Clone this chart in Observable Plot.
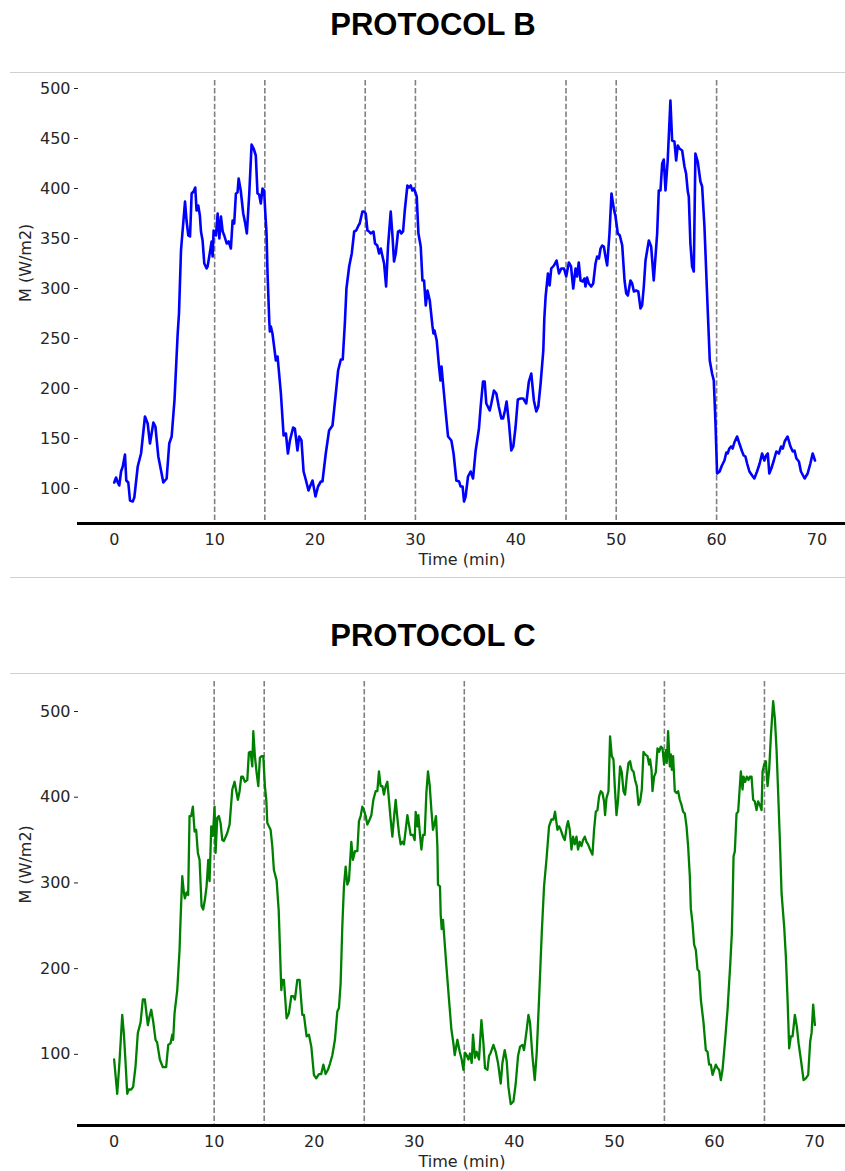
<!DOCTYPE html>
<html>
<head>
<meta charset="utf-8">
<script src="https://cdn.jsdelivr.net/npm/d3@7"></script>
<script src="https://cdn.jsdelivr.net/npm/@observablehq/plot@0.6"></script>
<style>
  html, body { margin: 0; padding: 0; background: #fff; }
  #wrap { position: relative; width: 845px; height: 1171px; overflow: hidden; background: #fff; }
  .title { position: absolute; left: 0; width: 866px; text-align: center; font-family: "Liberation Sans", Arial, sans-serif; font-weight: bold; font-size: 31px; line-height: 31px; color: #000; }
  .sep { position: absolute; left: 10px; width: 835px; border-top: 1px solid #d0d0d0; height: 0; }
  .panel { position: absolute; left: 0; }
</style>
</head>
<body>
<div id="wrap">
  <div class="title" id="titleB" style="top:9px">PROTOCOL B</div>
  <div class="sep" style="top:72px"></div>
  <div class="panel" id="chartB" style="top:73px"></div>
  <div class="sep" style="top:577px"></div>
  <div class="title" id="titleC" style="top:620px">PROTOCOL C</div>
  <div class="sep" style="top:673px"></div>
  <div class="panel" id="chartC" style="top:674px"></div>
</div>
<script>
// ---- Data ----
const titles = ["PROTOCOL B", "PROTOCOL C"];
const xLabel = "Time (min)";
const yLabel = "M (W/m2)";
const xTicks = [0, 10, 20, 30, 40, 50, 60, 70];
const yTicksB = [100, 150, 200, 250, 300, 350, 400, 450, 500];
const yTicksC = [100, 200, 300, 400, 500];
const phasesB = [10, 15, 25, 30, 45, 50, 60];
const phasesC = [10, 15, 25, 35, 55, 65];

const timeB = [0,0.18,0.35,0.5,0.68,0.85,1.07,1.2,1.4,1.57,1.84,2.0,2.34,2.67,3.06,3.33,3.56,3.9,4.1,4.39,4.66,4.89,5.22,5.48,5.72,5.92,6.0,6.32,6.45,6.65,6.73,7.05,7.2,7.38,7.55,7.71,7.9,8.07,8.2,8.37,8.53,8.64,8.8,8.97,9.2,9.3,9.56,9.7,9.8,9.9,10.13,10.3,10.47,10.63,10.8,10.96,11.2,11.4,11.62,11.79,11.95,12.12,12.28,12.39,12.6,12.85,13.05,13.21,13.45,13.68,13.88,14.1,14.27,14.43,14.6,14.77,14.93,15.04,15.17,15.27,15.44,15.5,15.6,15.76,16.1,16.27,16.6,16.87,17.1,17.3,17.5,17.82,17.99,18.25,18.42,18.65,18.86,19.1,19.35,19.5,19.75,20.05,20.3,20.58,20.74,21.07,21.4,21.74,22.07,22.3,22.57,22.76,22.97,23.13,23.4,23.66,23.9,24.1,24.33,24.45,24.72,24.88,25.05,25.22,25.38,25.55,25.82,25.98,26.2,26.38,26.55,26.7,26.88,27.08,27.27,27.54,27.7,27.87,28.04,28.27,28.43,28.6,28.77,28.94,29.2,29.37,29.53,29.7,29.86,30.13,30.3,30.53,30.7,30.86,31.03,31.2,31.43,31.69,31.8,31.9,32.12,32.35,32.5,32.6,32.78,33.0,33.25,33.58,33.8,34.08,34.35,34.5,34.7,34.84,35.0,35.24,35.5,35.74,36.0,36.33,36.5,36.73,36.9,37.06,37.4,37.56,37.82,38.06,38.3,38.56,38.73,38.92,39.08,39.32,39.55,39.75,39.98,40.2,40.47,40.74,41.04,41.3,41.54,41.8,42.04,42.24,42.47,42.74,42.84,42.97,43.2,43.37,43.53,43.8,44.06,44.3,44.53,44.8,45.02,45.28,45.5,45.72,45.95,46.1,46.27,46.45,46.67,46.84,46.94,47.1,47.27,47.51,47.71,47.94,48.1,48.28,48.44,48.6,48.77,48.93,49.1,49.33,49.53,49.76,49.93,50.16,50.36,50.6,50.83,51.0,51.16,51.42,51.59,51.76,51.99,52.2,52.42,52.58,52.75,52.92,53.25,53.48,53.74,54.08,54.24,54.41,54.58,54.74,54.91,55.13,55.4,55.57,55.8,55.97,56.13,56.3,56.57,56.8,56.96,57.13,57.23,57.39,57.56,57.73,57.89,58.12,58.39,58.56,58.79,59.05,59.32,59.55,59.72,59.88,60.05,60.3,60.53,60.78,60.97,61.1,61.27,61.44,61.6,61.77,62.04,62.27,62.54,62.7,62.87,63.04,63.27,63.54,63.76,64.03,64.29,64.53,64.76,64.93,65.1,65.25,65.45,65.7,65.95,66.2,66.43,66.6,66.78,67.07,67.36,67.59,67.76,67.95,68.2,68.4,68.77,69.07,69.34,69.57,69.8];
const valueB = [106,111,106,103,117,122,134,108,106,88,87,91,122,135,172,165,145,166,162,132,118,106,110,145,152,178,188,255,275,338,348,387,368,353,352,395,397,401,378,383,373,357,348,325,320,322,338,347,332,358,353,375,350,372,357,353,345,347,340,368,365,395,396,410,398,375,365,355,395,444,440,433,395,394,385,400,398,377,355,315,268,257,262,255,228,232,195,153,155,135,148,161,160,138,152,148,117,108,98,102,108,92,102,107,107,135,158,163,195,218,229,229,265,300,322,335,357,358,363,365,377,377,375,358,357,355,357,345,343,335,340,333,325,302,342,377,355,327,335,357,358,355,357,378,403,401,403,398,400,392,355,342,308,308,283,298,288,263,255,258,248,222,208,222,202,178,152,148,135,108,107,102,102,87,92,112,117,110,138,160,182,207,207,185,178,185,198,195,182,170,170,178,187,165,138,142,162,189,190,190,185,207,215,188,177,182,205,238,270,292,315,303,320,323,328,315,320,320,312,326,322,300,320,312,326,308,307,310,302,311,305,302,305,325,332,330,340,343,342,332,323,355,395,380,372,355,353,343,308,295,293,308,305,297,298,297,280,283,302,328,348,342,308,355,398,398,425,429,398,428,488,448,447,428,443,440,438,422,415,397,392,345,322,317,435,427,407,402,362,295,228,215,208,168,115,117,123,128,136,135,140,142,140,146,152,145,137,133,132,125,117,113,110,117,125,135,128,133,135,115,120,128,137,135,142,140,147,152,142,137,138,130,127,117,110,115,125,135,128];

const timeC = [0,0.31,0.53,0.81,0.97,1.14,1.31,1.47,1.71,1.9,2.14,2.37,2.64,2.87,3.07,3.37,3.54,3.71,3.91,4.14,4.3,4.57,4.87,5.2,5.41,5.64,5.81,5.9,6.04,6.31,6.54,6.64,6.81,6.97,7.07,7.24,7.4,7.54,7.7,7.87,8.04,8.2,8.37,8.54,8.74,8.9,9.07,9.24,9.41,9.54,9.71,9.87,10.04,10.14,10.31,10.47,10.64,10.81,10.97,11.3,11.54,11.81,12.04,12.21,12.37,12.54,12.71,12.87,13.07,13.31,13.47,13.64,13.81,13.91,14.07,14.24,14.41,14.57,14.74,14.91,15.07,15.21,15.31,15.47,15.64,15.81,15.97,16.24,16.45,16.71,16.81,16.97,17.24,17.47,17.71,17.91,18.07,18.31,18.54,18.81,18.97,19.24,19.47,19.71,19.97,20.2,20.47,20.7,20.91,21.14,21.37,21.57,21.81,22.07,22.31,22.47,22.64,22.81,22.97,23.14,23.31,23.47,23.71,23.87,24.07,24.31,24.47,24.64,24.81,24.97,25.14,25.31,25.54,25.71,25.91,26.14,26.31,26.47,26.64,26.81,26.97,27.14,27.31,27.47,27.64,27.81,27.97,28.14,28.31,28.47,28.64,28.81,28.97,29.14,29.31,29.47,29.64,29.87,30.04,30.14,30.31,30.41,30.57,30.71,30.87,31.04,31.21,31.37,31.54,31.71,31.87,32.04,32.17,32.31,32.37,32.57,32.64,32.74,32.87,32.97,33.21,33.47,33.71,33.91,34.04,34.31,34.54,34.74,34.91,35.07,35.24,35.41,35.57,35.74,35.87,36.07,36.24,36.47,36.71,36.91,37.07,37.31,37.47,37.64,37.91,38.14,38.37,38.64,38.81,39.04,39.24,39.41,39.64,39.91,40.14,40.37,40.57,40.81,40.97,41.24,41.41,41.57,41.81,42.04,42.24,42.47,42.74,42.97,43.21,43.47,43.71,43.91,44.07,44.31,44.47,44.64,44.87,45.04,45.24,45.37,45.54,45.71,45.87,46.04,46.21,46.37,46.54,46.71,46.87,47.04,47.21,47.37,47.57,47.81,47.97,48.14,48.31,48.47,48.64,48.81,48.97,49.07,49.21,49.41,49.57,49.74,49.91,50.04,50.21,50.37,50.57,50.74,50.91,51.07,51.24,51.41,51.57,51.74,51.91,52.07,52.24,52.41,52.57,52.74,52.91,53.07,53.31,53.47,53.57,53.71,53.81,53.97,54.14,54.31,54.47,54.64,54.81,54.97,55.14,55.24,55.37,55.54,55.64,55.74,55.87,56.04,56.21,56.37,56.54,56.71,56.87,57.04,57.21,57.37,57.54,57.64,57.81,57.97,58.14,58.31,58.47,58.64,58.91,59.14,59.31,59.47,59.64,59.81,59.97,60.14,60.31,60.47,60.64,60.81,61.07,61.31,61.57,61.74,61.82,61.91,62.04,62.21,62.37,62.64,62.81,62.91,63.07,63.24,63.41,63.54,63.71,63.87,64.04,64.21,64.37,64.54,64.71,64.81,64.97,65.14,65.31,65.47,65.64,65.87,66.04,66.21,66.37,66.54,66.71,66.81,66.97,67.14,67.31,67.47,67.64,67.81,68.04,68.24,68.41,68.64,68.91,69.14,69.37,69.57,69.71,69.87,70.04];
const valueC = [94,54,90,146,125,91,54,59,59,62,86,125,137,164,164,134,144,152,138,117,114,94,85,85,111,113,123,117,148,175,222,257,308,289,282,289,286,378,378,389,360,362,335,327,273,269,280,296,327,302,366,355,389,335,376,378,370,350,349,358,368,409,418,407,397,407,424,424,418,420,452,453,436,477,448,429,413,446,448,448,413,397,370,366,362,343,315,303,268,175,187,187,142,148,168,168,164,187,187,146,146,121,123,109,76,72,77,77,88,77,82,89,99,117,150,154,183,250,296,319,298,303,348,327,337,337,372,378,389,385,378,368,374,379,397,407,407,430,413,413,403,413,418,397,374,354,376,397,376,358,345,348,345,362,379,368,356,356,350,383,366,379,356,339,356,356,405,430,414,385,362,370,378,343,298,296,263,246,257,241,203,164,129,113,99,117,103,94,82,102,99,94,101,90,123,96,103,94,140,113,84,82,98,102,111,103,90,66,90,105,92,62,42,45,66,98,109,111,105,129,146,137,98,70,102,164,241,296,327,366,374,374,383,362,366,362,354,350,366,372,362,339,354,345,354,339,348,343,350,354,348,345,339,333,362,383,385,401,407,405,395,379,399,407,471,448,444,413,379,397,436,429,407,403,424,440,442,432,430,420,413,391,395,409,453,450,448,438,444,432,407,424,429,457,453,459,457,438,455,440,477,436,450,432,448,407,405,407,397,391,383,381,366,343,308,270,253,228,222,199,197,164,137,105,103,88,88,76,82,88,84,82,70,82,117,152,203,241,280,331,337,381,383,430,409,424,418,424,420,424,424,397,395,385,395,391,385,430,438,442,413,432,471,512,492,455,405,350,288,273,249,214,164,107,121,121,146,132,113,94,70,72,76,115,125,158,134];

function panel({time, value, phases, yTicks, yDomain, xDomain, color, lineWidth, height, marginBottom}) {
  return Plot.plot({
    width: 845,
    height,
    marginLeft: 78,
    marginRight: 0,
    marginTop: 7,
    marginBottom,
    x: {domain: xDomain},
    y: {domain: yDomain},
    style: {fontFamily: "DejaVu Sans", fontSize: "16px", color: "#262626", background: "white", overflow: "visible"},
    marks: [
      Plot.ruleX(phases, {stroke: "#808080", strokeWidth: 1.6, strokeDasharray: "5.5,2.4"}),
      Plot.line(value, {x: time, y: value, stroke: color, strokeWidth: lineWidth, strokeLinejoin: "round"}),
      Plot.frame({anchor: "bottom", stroke: "#000", strokeWidth: 3}),
      Plot.axisX({ticks: xTicks, tickSize: 0, tickPadding: 10, label: null, tickFormat: d => String(d), fontSize: 16}),
      Plot.axisY({ticks: yTicks, tickSize: 4, tickPadding: 4, label: null, tickFormat: d => String(d), fontSize: 16}),
      Plot.text([xLabel], {frameAnchor: "bottom", dy: 41, text: d => d, fontSize: 16, fill: "#262626"}),
      Plot.text([yLabel], {frameAnchor: "left", rotate: -90, dx: -53, text: d => d, fontSize: 16, fill: "#262626"})
    ]
  });
}

document.getElementById("titleB").textContent = titles[0];
document.getElementById("titleC").textContent = titles[1];

document.getElementById("chartB").appendChild(panel({
  time: timeB, value: valueB, phases: phasesB, yTicks: yTicksB,
  yDomain: [65, 508], xDomain: [-3.56, 72.84],
  color: "#0000ff", lineWidth: 2.6, height: 504, marginBottom: 54
}));
document.getElementById("chartC").appendChild(panel({
  time: timeC, value: valueC, phases: phasesC, yTicks: yTicksC,
  yDomain: [17, 535], xDomain: [-3.56, 73.1],
  color: "#008000", lineWidth: 2.3, height: 497, marginBottom: 46
}));
</script>
</body>
</html>
